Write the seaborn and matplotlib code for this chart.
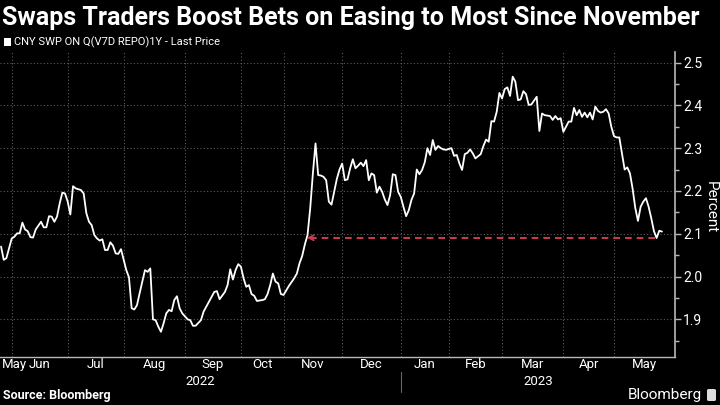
import numpy as np
import pandas as pd
import matplotlib
matplotlib.use("Agg")
import matplotlib.pyplot as plt
import matplotlib.transforms as mtransforms
from matplotlib.patches import Rectangle, FancyBboxPatch
import seaborn as sns

# ---------------- data ----------------
title = "Swaps Traders Boost Bets on Easing to Most Since November"
series_name = "CNY SWP ON Q(V7D REPO)1Y - Last Price"
source_text = "Source: Bloomberg"
brand_text = "Bloomberg"
y_label = "Percent"

start_date = "2022-05-26"          # first trading day shown (trading day 0)
holidays = ["2022-06-03", "2022-09-12",
            "2022-10-03", "2022-10-04", "2022-10-05", "2022-10-06", "2022-10-07",
            "2023-01-02", "2023-01-23", "2023-01-24", "2023-01-25", "2023-01-26",
            "2023-01-27", "2023-04-05", "2023-05-01", "2023-05-02", "2023-05-03"]
makeup_days = ["2023-01-28", "2023-01-29"]

month_starts = ["2022-06-01", "2022-07-01", "2022-08-01", "2022-09-01", "2022-10-01",
                "2022-11-01", "2022-12-01", "2023-01-01", "2023-02-01", "2023-03-01",
                "2023-04-01", "2023-05-01"]
month_labels = ["May", "Jun", "Jul", "Aug", "Sep", "Oct", "Nov", "Dec",
                "Jan", "Feb", "Mar", "Apr", "May"]
year_labels = ["2022", "2023"]
year_break = "2023-01-01"

trading_day = [0, 1, 2, 4, 5, 6, 7, 8, 9, 10, 11, 12, 13, 15, 16, 17, 18, 19, 20, 21,
               22, 23, 24, 25, 26, 27, 28, 30, 31, 32, 33, 34, 35, 36, 37, 38, 39, 40,
               41, 42, 43, 44, 45, 46, 47, 48, 49, 50, 51, 52, 54, 55, 56, 57, 58, 59,
               60, 61, 62, 63, 64, 65, 66, 67, 68, 70, 71, 72, 73, 75, 76, 78, 80, 81,
               82, 84, 85, 86, 87, 88, 89, 90, 91, 92, 93, 94, 95, 96, 98, 99, 100, 101,
               102, 103, 104, 105, 106, 108, 110, 111, 112, 113, 114, 115, 116, 117, 118,
               119, 120, 121, 122, 123, 124, 126, 127, 128, 129, 130, 131, 132, 133, 134,
               135, 136, 137, 138, 139, 140, 141, 142, 143, 144, 145, 146, 147, 148, 149,
               150, 151, 152, 153, 154, 155, 156, 157, 158, 159, 160, 161, 162, 163, 164,
               165, 166, 167, 169, 170, 171, 172, 173, 174, 175, 176, 177, 178, 180, 181,
               182, 183, 184, 185, 186, 187, 188, 189, 190, 191, 192, 193, 194, 195, 196,
               197, 198, 199, 201, 202, 203, 204, 206, 207, 208, 209, 210, 211, 212, 213,
               214, 215, 216, 217, 218, 219, 220, 221, 222, 223, 224, 225, 226, 227, 228,
               229, 230, 231, 232, 233, 234, 235, 236, 237, 238, 239, 240, 241, 242, 243,
               244, 245, 246, 247, 248]
rate = [2.070, 2.039, 2.043, 2.089, 2.093, 2.101, 2.101, 2.126, 2.110, 2.106, 2.092, 2.091,
        2.110, 2.128, 2.115, 2.115, 2.141, 2.140, 2.128, 2.140,
        2.171, 2.196, 2.194, 2.175, 2.145, 2.211, 2.206, 2.202, 2.194, 2.148, 2.128, 2.120,
        2.097, 2.089, 2.084, 2.087, 2.062, 2.062,
        2.080, 2.072, 2.054, 2.053, 2.064, 2.039, 2.015, 1.998, 1.926, 1.923, 1.933, 1.961,
        2.015, 2.011, 2.019, 1.900, 1.898, 1.883,
        1.871, 1.891, 1.914, 1.922, 1.919, 1.945, 1.954, 1.926, 1.914, 1.900, 1.898, 1.885,
        1.885, 1.898, 1.918, 1.941, 1.964, 1.966,
        1.947, 1.964, 1.980, 2.017, 1.993, 2.015, 2.029, 2.023, 1.996, 1.976, 1.980, 1.959,
        1.955, 1.943, 1.945, 1.947, 1.959, 1.980,
        2.007, 1.988, 1.984, 1.959, 1.957, 1.978, 1.996, 2.007, 2.031, 2.048, 2.075, 2.097,
        2.159, 2.240, 2.311,
        2.237, 2.236, 2.233, 2.225, 2.175, 2.168, 2.228, 2.250, 2.264, 2.225, 2.227, 2.253,
        2.274, 2.253, 2.259,
        2.266, 2.258, 2.272, 2.225, 2.241, 2.237, 2.196, 2.210, 2.198, 2.180, 2.167, 2.190,
        2.239, 2.237, 2.198,
        2.186, 2.163, 2.141, 2.155, 2.179, 2.194, 2.250, 2.239, 2.249, 2.267, 2.300, 2.284,
        2.319, 2.296, 2.305,
        2.300, 2.297, 2.296, 2.300, 2.282, 2.284, 2.264, 2.249, 2.286, 2.289, 2.297, 2.288,
        2.276, 2.286, 2.305,
        2.320, 2.315, 2.363, 2.362, 2.385, 2.429, 2.416, 2.438, 2.442, 2.422, 2.467, 2.455,
        2.412, 2.414, 2.433,
        2.426, 2.401, 2.402, 2.420, 2.340, 2.381, 2.377, 2.375, 2.366, 2.375, 2.367, 2.370,
        2.338, 2.350, 2.362,
        2.362, 2.394, 2.377, 2.389, 2.373, 2.383, 2.372, 2.383, 2.367, 2.397, 2.387, 2.383,
        2.385, 2.391, 2.381,
        2.350, 2.328, 2.325, 2.325, 2.288, 2.250, 2.255, 2.241, 2.205, 2.160, 2.130, 2.163,
        2.175, 2.183, 2.163,
        2.136, 2.106, 2.090, 2.107, 2.105]

ref_level = 2.0907      # most since November
ref_from_day = 114.7
ref_to_day = 246

y_ticks = [1.9, 2.0, 2.1, 2.2, 2.3, 2.4, 2.5]


def session_of(date_str):
    """Trading-day number of a calendar date (China onshore calendar)."""
    n = np.busday_count(start_date, date_str, holidays=holidays)
    n += sum(pd.Timestamp(m) < pd.Timestamp(date_str) for m in makeup_days)
    return float(n)


# ---------------- style ----------------
sns.set_theme(style="dark")
plt.rcParams["font.family"] = ["Roboto", "DejaVu Sans"]
BG = "#000000"
FG = "#ffffff"
GRID = "#5c5c5c"
AXIS = "#b8b8b8"
RED = "#c8384f"

fig = plt.figure(figsize=(7.2, 4.05), dpi=100, facecolor=BG)
ax = fig.add_axes([0.0, 0.1185, 0.9375, 0.753])
ax.set_facecolor(BG)

df = pd.DataFrame({"day": trading_day, "rate": rate})
sns.lineplot(data=df, x="day", y="rate", ax=ax, color=FG, linewidth=1.3,
             estimator=None, sort=True)

x_left, x_right = -0.4, 252.9
ax.set_xlim(x_left, x_right)
ax.set_ylim(1.812, 2.5245)

# grid / ticks
starts = [session_of(d) for d in month_starts]
ax.set_xticks(starts)
ax.set_xticklabels([])
ax.tick_params(axis="x", which="major", length=3, color=AXIS, direction="out")
ax.set_yticks(y_ticks)
ax.set_yticks(np.arange(1.85, 2.52, 0.1), minor=True)
ax.yaxis.tick_right()
ax.set_yticklabels([f"{v:.1f}" for v in y_ticks], color=FG, fontsize=10)
ax.tick_params(axis="y", which="major", length=4, width=1, color=AXIS, pad=2)
ax.tick_params(axis="y", which="minor", length=3, width=1, color=AXIS, right=True)
ax.grid(True, which="major", color=GRID, linestyle=(0, (1, 2)), linewidth=0.8)

for side in ["left", "top"]:
    ax.spines[side].set_visible(False)
ax.spines["right"].set_color(AXIS)
ax.spines["right"].set_linewidth(1.2)
ax.spines["bottom"].set_color(AXIS)
ax.spines["bottom"].set_linewidth(1.0)
ax.set_xlabel("")
ax.set_ylabel("")

# month labels
trans = mtransforms.blended_transform_factory(ax.transData, ax.transAxes)
bounds = [x_left] + starts + [x_right]
for i, lab in enumerate(month_labels):
    if i == 0:
        ax.text(x_left + 0.8, -0.024, lab, transform=trans, ha="left", va="center",
                color=FG, fontsize=9.5, clip_on=False)
    else:
        c = (bounds[i] + bounds[i + 1]) / 2
        ax.text(c, -0.024, lab, transform=trans, ha="center", va="center",
                color=FG, fontsize=9.5, clip_on=False)

yb = session_of(year_break)
ax.text((x_left + yb) / 2, -0.080, year_labels[0], transform=trans, ha="center",
        va="center", color=FG, fontsize=9.5, clip_on=False)
ax.text((yb + x_right) / 2, -0.080, year_labels[1], transform=trans, ha="center",
        va="center", color=FG, fontsize=9.5, clip_on=False)
ax.plot([yb, yb], [-0.05, -0.115], transform=trans, color="#666666", lw=0.8,
        clip_on=False)

# reference dashed arrow
ax.plot([ref_from_day + 1.2, ref_to_day], [ref_level, ref_level], color=RED,
        lw=1.5, linestyle=(0, (3.2, 2.4)))
ax.annotate("", xy=(ref_from_day, ref_level), xytext=(ref_from_day + 2.2, ref_level),
            arrowprops=dict(arrowstyle="->", color=RED, lw=1.3,
                            mutation_scale=9, shrinkA=0, shrinkB=0))

# header / footer
fig.text(0.003, 1 - 18 / 405, title, color=FG, fontsize=18, fontweight="bold",
         ha="left", va="center")
fig.patches.append(Rectangle((4 / 720, 1 - 46 / 405), 7 / 720, 8 / 405,
                             transform=fig.transFigure, facecolor=FG, edgecolor="none"))
fig.text(14 / 720, 1 - 42 / 405, series_name, color=FG, fontsize=8, ha="left",
         va="center")
fig.text(711 / 720, 1 - 207 / 405, y_label, color=FG, fontsize=11, rotation=270,
         ha="center", va="center")
fig.text(3 / 720, 1 - 396 / 405, source_text, color=FG, fontsize=9, fontweight="bold",
         ha="left", va="center")
fig.text(702 / 720, 1 - 395 / 405, brand_text, color=FG, fontsize=11, ha="right",
         va="center")
fig.patches.append(FancyBboxPatch((707 / 720, 1 - 401 / 405), 9 / 720, 12 / 405,
                                  boxstyle="round,pad=0,rounding_size=0.003",
                                  transform=fig.transFigure, facecolor="#dddddd",
                                  edgecolor="none"))

fig.savefig("out.png", dpi=100, facecolor=BG)
